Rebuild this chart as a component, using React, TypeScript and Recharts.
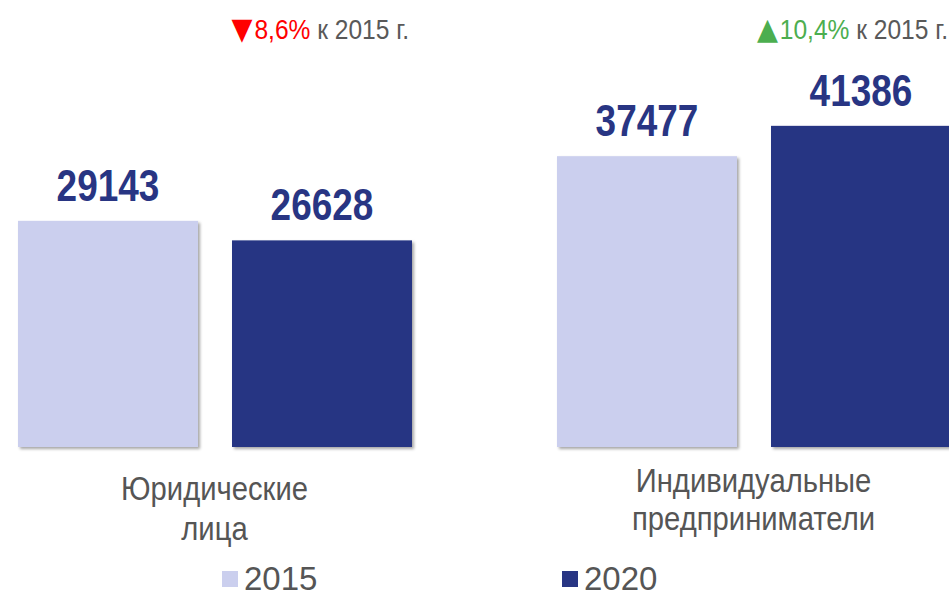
import React from "react";
import { BarChart, Bar, XAxis, YAxis, LabelList, Legend } from "recharts";

const categories = ["Юридические лица", "Индивидуальные предприниматели"];
const categoryLines = [
  ["Юридические", "лица"],
  ["Индивидуальные", "предприниматели"],
];
const values2015 = [29143, 37477];
const values2020 = [26628, 41386];
const changes = [-8.6, 10.4];
const seriesNames = ["2015", "2020"];

const data = categories.map((name, i) => ({
  name,
  y2015: values2015[i],
  y2020: values2020[i],
  change: changes[i],
}));

const LIGHT = "#cbcfee";
const DARK = "#283583";
const FONT = "'Liberation Sans', Arial, sans-serif";
// no narrow font installed, so text is squeezed horizontally
const NARROW = 0.84;

// first-line baseline offset below the plot bottom, per category
const tickTop = [53, 45];
const tickLine = [40, 38];

function CategoryTick(props: any) {
  const { x, y, index } = props;
  const lines = categoryLines[index] || [];
  return (
    <g transform={`translate(${x},${y}) scale(0.86,1)`}>
      <text x={0} y={0} textAnchor="middle" fill="#555555" fontFamily={FONT} fontSize={34}>
        {lines.map((l, k) => (
          <tspan key={k} x={0} y={tickTop[index] + k * tickLine[index]}>
            {l}
          </tspan>
        ))}
      </text>
    </g>
  );
}

function ValueLabel(props: any) {
  const { x, y, width, value } = props;
  return (
    <text
      transform={`translate(${x + width / 2},${y - 20}) scale(${NARROW},1)`}
      textAnchor="middle"
      fill={DARK}
      fontFamily={FONT}
      fontWeight="bold"
      fontSize={44}
    >
      {value}
    </text>
  );
}

function ChangeLabel(props: any) {
  const { x, width, index } = props;
  const c = changes[index];
  const up = c >= 0;
  const color = up ? "#4cae4f" : "#ff0000";
  return (
    <text
      transform={`translate(${x + width - 3},39) scale(0.91,1)`}
      textAnchor="end"
      fontFamily={FONT}
      fontSize={27}
    >
      <tspan fill={color} fontSize={30} fontFamily="'DejaVu Sans', sans-serif">{up ? "▲" : "▼"}</tspan>
      <tspan fill={color} dx={2}>{Math.abs(c).toFixed(1).replace(".", ",")}%</tspan>
      <tspan fill="#595959"> к 2015 г.</tspan>
    </text>
  );
}

function ShadowBar(props: any) {
  const { x, y, width, height, fill } = props;
  return <rect x={x} y={y} width={width} height={height} fill={fill} filter="url(#barShadow)" />;
}

const legendLeft = [277, 617];

function LegendContent() {
  const colors = [LIGHT, DARK];
  return (
    <div style={{ position: "relative", height: 40 }}>
      {seriesNames.map((s, i) => (
        <div
          key={s}
          style={{
            position: "absolute",
            left: legendLeft[i],
            top: 4,
            display: "flex",
            alignItems: "center",
            fontFamily: FONT,
            fontSize: 33,
            color: "#555555",
          }}
        >
          <span style={{ width: 16, height: 16, background: colors[i], marginRight: 6, display: "inline-block" }} />
          {s}
        </div>
      ))}
    </div>
  );
}

export default function App() {
  return (
    <div style={{ position: "fixed", left: 0, top: 0, width: 949, height: 596, overflow: "hidden", background: "#fff" }}>
      <div style={{ position: "absolute", left: -55, top: 0 }}>
        <BarChart
          width={1078}
          height={596}
          data={data}
          margin={{ top: 59, right: 0, bottom: 0, left: 0 }}
          barSize={180}
          barGap={34}
        >
          <defs>
            <filter id="barShadow" x="-10%" y="-10%" width="130%" height="130%">
              <feDropShadow dx="2" dy="2" stdDeviation="1.5" floodColor="#000" floodOpacity="0.35" />
            </filter>
          </defs>
          <XAxis
            dataKey="name"
            axisLine={false}
            tickLine={false}
            tickSize={0}
            tickMargin={0}
            height={109}
            interval={0}
            tick={<CategoryTick />}
          />
          <YAxis hide domain={[0, 50000]} />
          <Legend verticalAlign="bottom" height={40} content={<LegendContent />} />
          <Bar dataKey="y2015" name="2015" fill={LIGHT} shape={<ShadowBar />} isAnimationActive={false}>
            <LabelList dataKey="y2015" content={<ValueLabel />} />
          </Bar>
          <Bar dataKey="y2020" name="2020" fill={DARK} shape={<ShadowBar />} isAnimationActive={false}>
            <LabelList dataKey="y2020" content={<ValueLabel />} />
            <LabelList dataKey="change" content={<ChangeLabel />} />
          </Bar>
        </BarChart>
      </div>
    </div>
  );
}
